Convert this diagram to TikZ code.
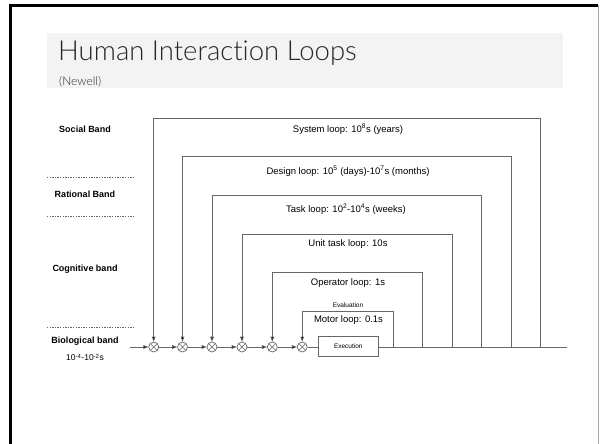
\documentclass[tikz,border=0pt]{standalone}
\usepackage{fontspec}
\setmainfont{Liberation Sans}
\newfontfamily\titlefont{Lato Light}[Ligatures={NoCommon}]
\usetikzlibrary{arrows.meta,calc}
\definecolor{wire}{HTML}{666666}
\definecolor{titlebg}{HTML}{F2F3F2}
\definecolor{titleink}{HTML}{262626}
\tikzset{
  mixer/.style={circle, draw=wire, line width=0.7pt, minimum size=10pt, inner sep=0pt,
    path picture={\draw[wire, line width=0.6pt]
      (path picture bounding box.north west) -- (path picture bounding box.south east)
      (path picture bounding box.north east) -- (path picture bounding box.south west);}},
  feed/.style={draw=wire, line width=0.7pt, -{Triangle[length=5pt,width=3.6pt,fill=black]}},
  wireline/.style={draw=wire, line width=0.7pt},
  looplabel/.style={font=\fontsize{9.5}{11}\selectfont, inner sep=0pt},
  smalllabel/.style={font=\fontsize{6.5}{8}\selectfont, inner sep=0pt},
  bandlabel/.style={font=\fontsize{9}{11}\selectfont\bfseries, inner sep=0pt},
  bandrule/.style={draw=wire, line width=0.6pt, dash pattern=on 1.4pt off 1.2pt},
  execbox/.style={draw=wire, line width=0.7pt, minimum width=60pt, minimum height=20pt,
    inner sep=0pt, font=\fontsize{6.5}{8}\selectfont}
}
\begin{document}
\begin{tikzpicture}[x=1pt,y=-1pt]
\useasboundingbox (0,0) rectangle (600,444);
\fill[white] (0,0) rectangle (600,444);
% slide frame
\draw[black, line width=2.6pt] (10.5,444) -- (10.5,5.5) -- (598,5.5);
\draw[black!35, line width=1.2pt] (598.6,5) -- (598.6,444);
% title block
\fill[titlebg] (47,33) rectangle (563,88);
\node[anchor=base west, inner sep=0pt, text=titleink, font=\titlefont\fontsize{27.5}{30}\selectfont]
  (title) at (58,60) {Human Interaction Loops};
\node[anchor=base west, inner sep=0pt, text=titleink, font=\titlefont\fontsize{12}{14}\selectfont]
  (subtitle) at (59,85) {(Newell)};

% band labels and separators
\node[bandlabel] (social) at (85,129) {Social Band};
\draw[bandrule] (47,177.3) -- (135,177.3);
\node[bandlabel] (rational) at (85,194.3) {Rational Band};
\draw[bandrule] (47,216.7) -- (135,216.7);
\node[bandlabel] (cognitive) at (85,269) {Cognitive band};
\draw[bandrule] (47,327.3) -- (135,327.3);
\node[bandlabel] (biological) at (85,341) {Biological band};
\node[font=\fontsize{8.5}{10}\selectfont, inner sep=0pt] (biotime) at (85,357.5)
  {10\textsuperscript{-4}-10\textsuperscript{-2}s};

% summing junctions on the main line
\coordinate (in) at (130,347);
\node[mixer] (c1) at (153.7,347) {};
\node[mixer] (c2) at (182.5,347) {};
\node[mixer] (c3) at (212,347) {};
\node[mixer] (c4) at (242,347) {};
\node[mixer] (c5) at (272.3,347) {};
\node[mixer] (c6) at (302.2,347) {};
\node[execbox] (exec) at (348.3,346) {Execution};
\coordinate (out) at (567,347);

\draw[feed] (in) -- (c1);
\draw[feed] (c1) -- (c2);
\draw[feed] (c2) -- (c3);
\draw[feed] (c3) -- (c4);
\draw[feed] (c4) -- (c5);
\draw[feed] (c5) -- (c6);
\draw[wireline] (c6) -- (exec.west |- c6);
\draw[wireline] (exec.east |- c6) -- (out);

% feedback loops: right leg on the main line, top edge, arrow down into a junction
\coordinate (r1) at (540.7,347); \coordinate (t1) at (153.7,118);
\coordinate (r2) at (511.3,347); \coordinate (t2) at (182.5,156.7);
\coordinate (r3) at (481.3,347); \coordinate (t3) at (212,195.7);
\coordinate (r4) at (452.3,347); \coordinate (t4) at (242,234);
\coordinate (r5) at (422.3,347); \coordinate (t5) at (272.3,272.7);
\coordinate (r6) at (393.3,347); \coordinate (t6) at (302.2,311);
\foreach \k in {1,...,6}{
  \draw[feed] (r\k) |- (t\k) -- (c\k);
}

% loop labels
\node[looplabel] (system) at (348,129) {System loop: 10\textsuperscript{8}s (years)};
\node[looplabel] (design) at (348,171.5) {Design loop: 10\textsuperscript{5} (days)-10\textsuperscript{7}s (months)};
\node[looplabel] (task) at (346,209) {Task loop: 10\textsuperscript{2}-10\textsuperscript{4}s (weeks)};
\node[looplabel] (unit) at (348,244.3) {Unit task loop: 10s};
\node[looplabel] (operator) at (348,282.7) {Operator loop: 1s};
\node[smalllabel] (eval) at (348,305.3) {Evaluation};
\node[looplabel] (motor) at (348.5,320) {Motor loop: 0.1s};
\end{tikzpicture}
\end{document}
